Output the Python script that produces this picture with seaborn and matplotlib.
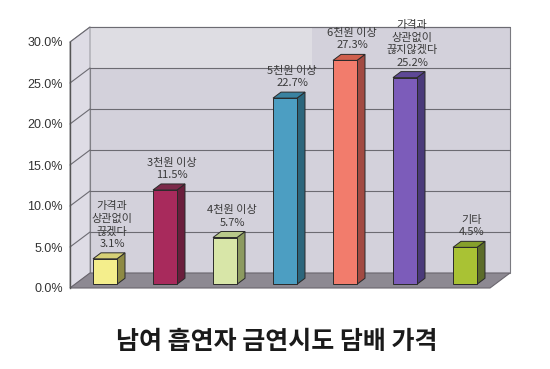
import matplotlib
matplotlib.use("Agg")
import matplotlib.pyplot as plt
import matplotlib.transforms as mtransforms
from matplotlib.patches import Polygon
import seaborn as sns
import pandas as pd

# ---- data ----
categories = ["가격과\n상관없이\n끊겠다", "3천원 이상", "4천원 이상", "5천원 이상",
              "6천원 이상", "가격과\n상관없이\n끊지않겠다", "기타"]
values = [3.1, 11.5, 5.7, 22.7, 27.3, 25.2, 4.5]
value_labels = ["3.1%", "11.5%", "5.7%", "22.7%", "27.3%", "25.2%", "4.5%"]
yticks = [0, 5, 10, 15, 20, 25, 30]
ytick_labels = ["0.0%", "5.0%", "10.0%", "15.0%", "20.0%", "25.0%", "30.0%"]
front_colors = ["#f4ee8c", "#a82a5c", "#d8e6a8", "#4c9ec2", "#f27c6c", "#7c5cba", "#a9c234"]
side_colors = ["#8e8a44", "#6a1e3c", "#8c9a60", "#2c667c", "#a24a42", "#4a3a7a", "#5c6c2a"]
top_colors = ["#d6d076", "#7c2a4a", "#b8c88a", "#3a82a0", "#d0604e", "#5e4896", "#86a02c"]
title = "남여 흡연자 금연시도 담배 가격"

sns.set_theme(style="white")
plt.rcParams['font.family'] = ['Noto Sans CJK KR', 'DejaVu Sans']

W, H = 550, 369
fig = plt.figure(figsize=(W / 100, H / 100), dpi=100)
fig.patch.set_facecolor("white")
ax = fig.add_axes([70 / W, (H - 288) / H, 420 / W, (288 - 42) / H])

df = pd.DataFrame({"cat": categories, "val": values})
sns.barplot(data=df, x="cat", y="val", hue="cat", palette=front_colors, width=0.4,
            legend=False, ax=ax, saturation=1, edgecolor="#2a2a2a", linewidth=0.7,
            zorder=6)
ax.set_xlim(-0.5, 6.5)
ax.set_ylim(0, 30)
ax.patch.set_visible(False)
for s in ["top", "right", "bottom"]:
    ax.spines[s].set_visible(False)
ax.spines["left"].set_color("#555555")
ax.spines["left"].set_linewidth(1.0)
ax.spines["left"].set_zorder(4)
ax.set_xticks([])
ax.set_xlabel("")
ax.set_ylabel("")
ax.set_yticks(yticks)
ax.set_yticklabels(ytick_labels, fontfamily="Liberation Sans", fontsize=9, color="#333333")
ax.tick_params(axis="y", length=0, pad=5)

fig.canvas.draw()
ID = mtransforms.IdentityTransform()
DX, DY = 20, 15          # full box depth in pixels
BF = 0.25                # bar front-face depth fraction
BD = 0.4                 # bar depth fraction


def P(x, y, d=0.0):
    px, py = ax.transData.transform((x, y))
    return (px + DX * d, py + DY * d)


x0, x1 = ax.get_xlim()
ymax = ax.get_ylim()[1]

# back wall
ax.add_patch(Polygon([P(x0, 0, 1), P(x1, 0, 1), P(x1, ymax, 1), P(x0, ymax, 1)],
                     closed=True, transform=ID, facecolor="#d3d1db", edgecolor="#7a7a80",
                     linewidth=0.8, zorder=0, clip_on=False))
# lighter band near top of back wall
ax.add_patch(Polygon([P(x0, 25, 1), P(3.2, 25, 1), P(3.2, ymax, 1), P(x0, ymax, 1)],
                     closed=True, transform=ID, facecolor="#dedde3", edgecolor="none",
                     zorder=0.5, clip_on=False))
# left wall
ax.add_patch(Polygon([P(x0, 0, 0), P(x0, 0, 1), P(x0, ymax, 1), P(x0, ymax, 0)],
                     closed=True, transform=ID, facecolor="#dedce5", edgecolor="#8a8a90",
                     linewidth=0.6, zorder=1, clip_on=False))
# floor
ax.add_patch(Polygon([P(x0, 0, 0), P(x1, 0, 0), P(x1, 0, 1), P(x0, 0, 1)],
                     closed=True, transform=ID, facecolor="#8d8992", edgecolor="#6a666e",
                     linewidth=0.8, zorder=2, clip_on=False))
# gridlines
for t in yticks[1:]:
    a, b = P(x0, t, 1), P(x1, t, 1)
    ax.plot([a[0], b[0]], [a[1], b[1]], transform=ID, color="#6c6b72", lw=0.8,
            zorder=1.5, clip_on=False)
    c = P(x0, t, 0)
    ax.plot([c[0], a[0]], [c[1], a[1]], transform=ID, color="#6c6b72", lw=0.8,
            zorder=1.5, clip_on=False)

# bars: shift front faces, add side and top faces
shift = mtransforms.Affine2D().translate(DX * BF, DY * BF)
bars = [p for p in ax.patches if p.get_zorder() == 6]
for i, bar in enumerate(bars):
    bx, bw, bh = bar.get_x(), bar.get_width(), bar.get_height()
    bar.set_transform(ax.transData + shift)
    bar.set_clip_on(False)
    d0, d1 = BF, BF + BD
    side = [P(bx + bw, 0, d0), P(bx + bw, 0, d1), P(bx + bw, bh, d1), P(bx + bw, bh, d0)]
    top = [P(bx, bh, d0), P(bx + bw, bh, d0), P(bx + bw, bh, d1), P(bx, bh, d1)]
    ax.add_patch(Polygon(side, closed=True, transform=ID, facecolor=side_colors[i],
                         edgecolor="#2a2a2a", linewidth=0.7, zorder=5, clip_on=False))
    ax.add_patch(Polygon(top, closed=True, transform=ID, facecolor=top_colors[i],
                         edgecolor="#2a2a2a", linewidth=0.7, zorder=5, clip_on=False))
    tx, ty = P(bx + bw / 2, bh, BF + BD / 2)
    ax.text(tx + 3, ty + 7, categories[i] + "\n" + value_labels[i], transform=ID,
            ha="center", va="bottom", fontsize=8, color="#3a3a3a", linespacing=1.3,
            zorder=8, clip_on=False)

fig.text(277 / W, 1 - 342 / H, title, ha="center", va="center", fontsize=18,
         fontweight="bold", color="#1a1a1a")

fig.savefig("out.png", dpi=100)
